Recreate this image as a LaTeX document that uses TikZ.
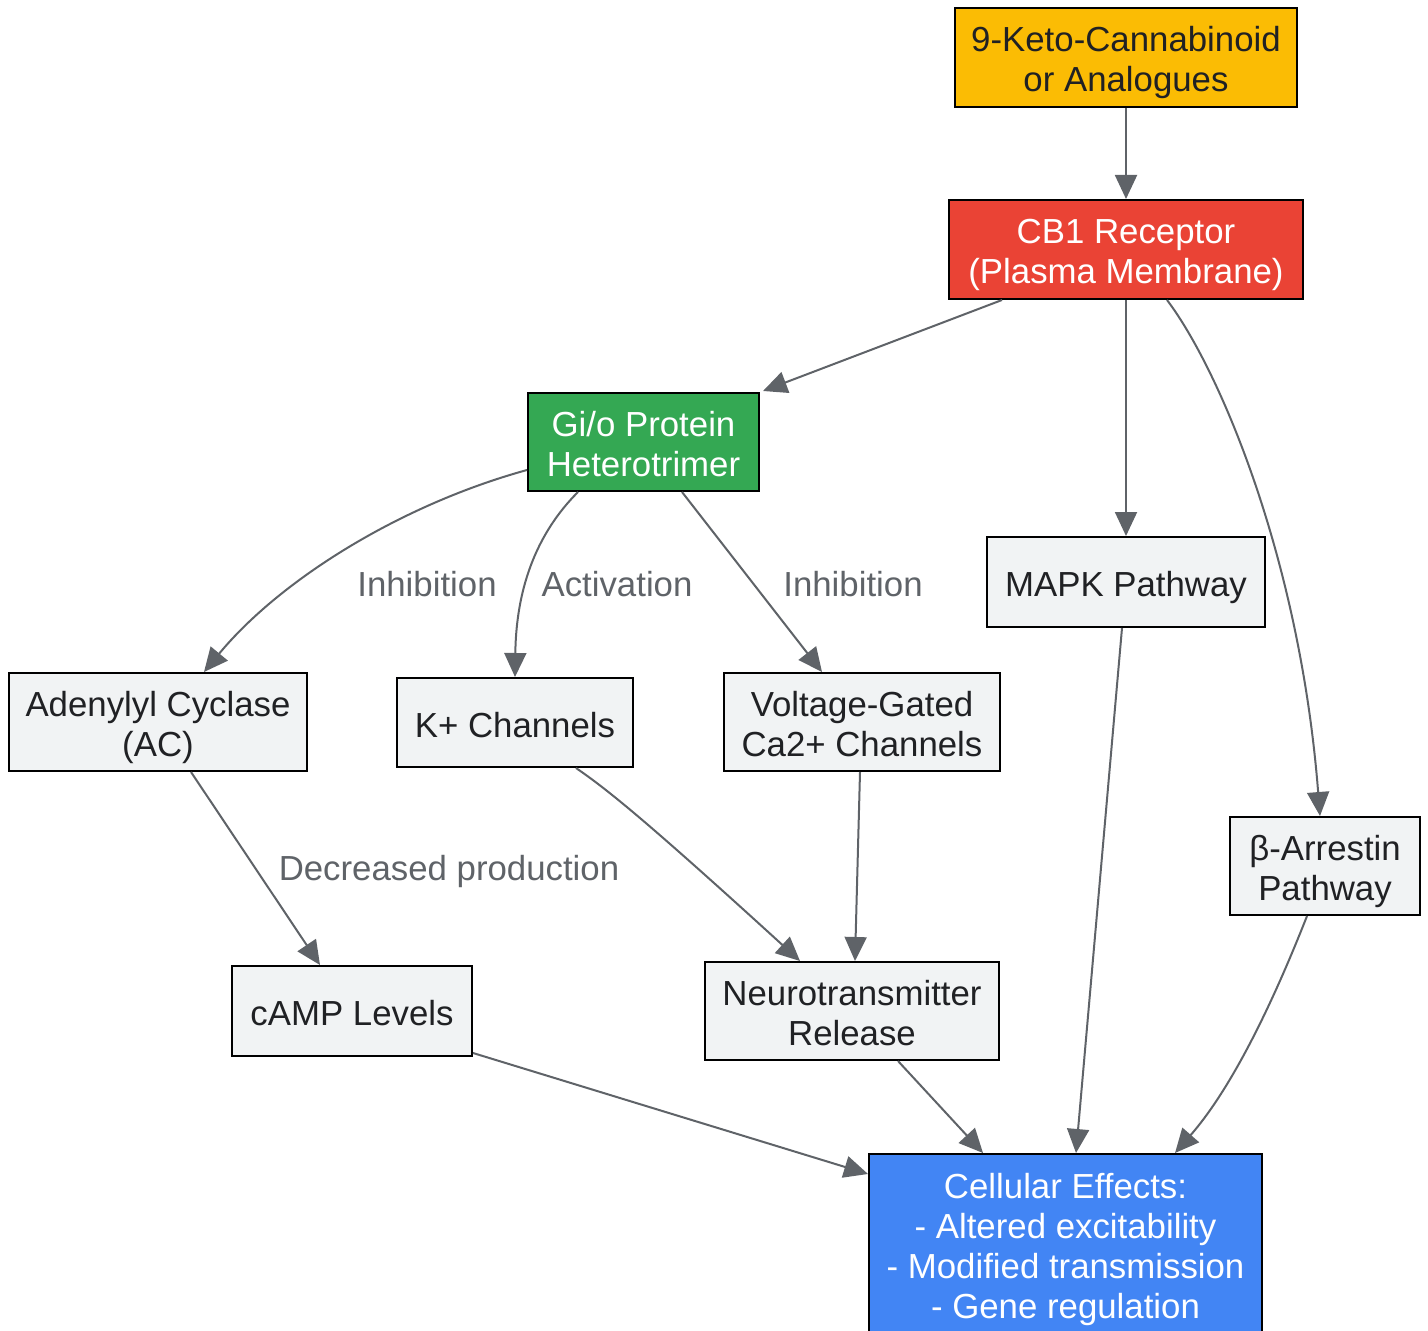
\documentclass[tikz,border=0pt]{standalone}
\usepackage{fontspec}
\setmainfont{Liberation Sans}
\usetikzlibrary{arrows.meta}
\definecolor{edgegray}{HTML}{5F6368}
\definecolor{boxgray}{HTML}{F1F3F4}
\definecolor{txtdark}{HTML}{202124}
\definecolor{gyellow}{HTML}{FBBC04}
\definecolor{gred}{HTML}{EA4335}
\definecolor{ggreen}{HTML}{34A853}
\definecolor{gblue}{HTML}{4285F4}
\newcommand\mytopst{\rule{0pt}{19.5pt}}
\newcommand\mybotst{\rule[-5pt]{0pt}{5pt}}
\tikzset{
  box/.style={draw=black, line width=1pt, fill=boxgray, text=txtdark, align=center, inner sep=0pt,
    font=\fontsize{17.4}{20}\selectfont},
  conn/.style={draw=edgegray, line width=1pt, -{Triangle[length=12pt,width=11pt]}},
  elabel/.style={text=edgegray, font=\fontsize{17.4}{20}\selectfont, inner sep=0pt}
}
\begin{document}
\begin{tikzpicture}[x=0.5pt,y=-0.5pt]
\useasboundingbox (0,0) rectangle (1428,1331);
\begin{scope}
\clip (0,0) rectangle (1428,1331);
\node[box, fill=gyellow, minimum width=171pt, minimum height=49.5pt] (keto) at (1126,57.5) {\mytopst 9-Keto-Cannabinoid\\or Analogues\mybotst};
\node[box, fill=gred, text=white, minimum width=177pt, minimum height=49.5pt] (cb1) at (1126,249.5) {\mytopst CB1 Receptor\\(Plasma Membrane)\mybotst};
\node[box, fill=ggreen, text=white, minimum width=115.5pt, minimum height=49pt] (gio) at (643.5,442) {\mytopst Gi/o Protein\\Heterotrimer\mybotst};
\node[box, minimum width=139pt, minimum height=45pt] (mapk) at (1126,582) {\mytopst MAPK Pathway\mybotst};
\node[box, minimum width=149pt, minimum height=49pt] (ac) at (158,722) {\mytopst Adenylyl Cyclase\\(AC)\mybotst};
\node[box, minimum width=118pt, minimum height=44.5pt] (kp) at (515,722.5) {\mytopst K+ Channels\mybotst};
\node[box, minimum width=138pt, minimum height=49pt] (volt) at (862,722) {\mytopst Voltage-Gated\\Ca2+ Channels\mybotst};
\node[box, minimum width=95pt, minimum height=49pt] (arr) at (1325,866) {\mytopst β-Arrestin\\Pathway\mybotst};
\node[box, minimum width=120pt, minimum height=45pt] (camp) at (352,1011) {\mytopst cAMP Levels\mybotst};
\node[box, minimum width=147pt, minimum height=49pt] (neuro) at (852,1011) {\mytopst Neurotransmitter\\Release\mybotst};
\node[box, fill=gblue, text=white, minimum width=196.5pt, minimum height=90pt] (cell) at (1065.5,1244) {\mytopst Cellular Effects:\\- Altered excitability\\- Modified transmission\\- Gene regulation\mybotst};
\end{scope}

\draw[conn] (keto.south) -- (cb1.north);
\draw[conn] ([xshift=-62pt]cb1.south) -- ([xshift=1.5pt,yshift=0.5pt]gio.north east);
\draw[conn] (cb1.south) -- (mapk.north);
\draw[conn] ([xshift=20.5pt]cb1.south) .. controls (1220,370) and (1300,560) .. ([xshift=-2.5pt]arr.north);

\draw[conn] ([yshift=-14pt]gio.west) .. controls (400,505) and (280,580) .. ([xshift=23pt]ac.north);
\draw[conn] ([xshift=-32.75pt]gio.south) .. controls (530,540) and (516,600) .. (kp.north);
\draw[conn] ([xshift=19.25pt]gio.south) -- ([xshift=-20pt]volt.north);

\node[elabel] (lab1) at (427,584) {Inhibition};
\node[elabel] (lab2) at (617,584) {Activation};
\node[elabel] (lab3) at (853,584) {Inhibition};

\draw[conn] ([xshift=-2pt]mapk.south) -- ([xshift=5.25pt]cell.north);
\draw[conn] ([xshift=16.5pt]ac.south) -- ([xshift=-16pt]camp.north);
\node[elabel] (lab4) at (449,871) {Decreased production};

\draw[conn] ([xshift=30.5pt]kp.south) .. controls (605,788) and (640,815) .. ([xshift=-26pt]neuro.north);
\draw[conn] ([xshift=-1pt]volt.south) -- ([xshift=1.5pt]neuro.north);
\draw[conn] ([xshift=-9pt]arr.south) .. controls (1270,1010) and (1230,1090) .. ([xshift=54.75pt]cell.north);
\draw[conn] ([yshift=2pt]camp.south east) -- ([yshift=-10.5pt]cell.north west);
\draw[conn] ([xshift=23pt]neuro.south) -- ([xshift=-41.25pt]cell.north);
\end{tikzpicture}
\end{document}
